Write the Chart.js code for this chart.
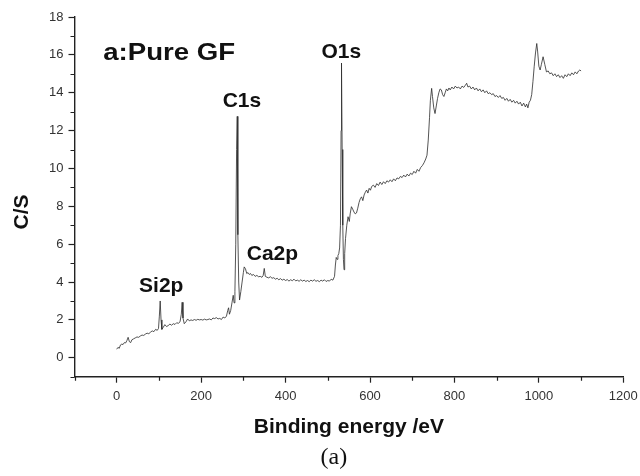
<!DOCTYPE html>
<html>
<head>
<meta charset="utf-8">
<script src="https://cdn.jsdelivr.net/npm/chart.js@4.4.0/dist/chart.umd.min.js"></script>
<style>
  html, body { margin: 0; padding: 0; background: #fff; }
  #wrap { width: 640px; height: 476px; position: relative; }
</style>
</head>
<body>
<div id="wrap"><canvas id="xpsChart"></canvas></div>
<script>
// XPS survey spectrum of pure GF
const energy = [
  // 0-99
  0, 3, 6, 9, 12, 15, 18, 21, 24, 27, 30, 33, 36, 40, 44, 48, 52, 56, 60, 64,
  68, 72, 76, 80, 84, 88, 92, 96, 99,
  // Si2p
  101, 103, 105, 107, 110, 114, 118, 122, 126, 130, 134, 138, 142, 146, 150, 153, 155, 157, 160,
  // 164-260
  164, 168, 172, 176, 180, 184, 188, 192, 196, 200, 204, 208, 212, 216, 220, 224, 228, 232, 236, 240,
  244, 248, 252, 256, 260,
  // C1s
  263, 265, 267, 270, 273, 276, 278, 280, 282, 284, 285.5, 287, 289, 291, 294, 297, 300, 302, 305,
  // Ca2p + flat part
  308, 311, 314, 317, 320, 324, 328, 332, 336, 340, 344, 347, 349.5, 352, 356, 360, 364, 368, 372, 376,
  380, 384, 388, 392, 396, 400, 404, 408, 412, 416, 420, 424, 428, 432, 436, 440, 444, 448, 452, 456,
  460, 464, 468, 472, 476, 480, 484, 488, 492, 496, 500, 504, 508, 512,
  // O1s
  516, 518, 520, 522, 524, 526, 528, 530, 531.5, 532.5, 534, 535.5, 537, 538.5, 540, 542, 545,
  // 548-735
  548, 551, 553, 556, 559, 562, 565, 568, 571, 574, 577, 580, 583, 586, 589, 592, 595, 598, 601, 604,
  608, 612, 616, 620, 624, 628, 632, 636, 640, 644, 648, 652, 656, 660, 664, 668, 672, 676, 680, 684,
  688, 692, 696, 700, 704, 708, 712, 716, 720, 724, 728, 732, 735,
  // 738-977
  738, 741, 743, 746, 748, 751, 754, 757, 760, 763, 766, 769, 772, 775, 778, 781, 784, 787, 790, 794,
  798, 802, 806, 810, 814, 818, 822, 826, 829, 832, 836, 840, 844, 848, 852, 856, 860, 864, 868, 872,
  876, 880, 884, 888, 892, 896, 900, 904, 908, 912, 916, 920, 924, 928, 932, 936, 940, 944, 948, 952,
  956, 960, 964, 968, 971, 974, 977,
  // 980-1100
  980, 983, 986, 989, 992, 995, 997, 1000, 1003, 1006, 1010, 1014, 1018, 1022, 1026, 1030, 1034, 1038, 1042, 1046,
  1050, 1054, 1058, 1062, 1066, 1070, 1074, 1078, 1082, 1086, 1090, 1094, 1097, 1100
];

const counts = [
  0.45, 0.55, 0.5, 0.68, 0.72, 0.7, 0.8, 0.78, 0.9, 1.08, 0.85, 0.8, 0.95, 1.0, 1.05, 1.1, 1.08, 1.15, 1.2, 1.18,
  1.25, 1.3, 1.27, 1.35, 1.42, 1.38, 1.5, 1.45, 1.55,

  2.2, 3.0, 2.0, 1.5, 1.6, 1.75, 1.65, 1.7, 1.78, 1.72, 1.8, 1.76, 1.85, 1.82, 1.9, 2.3, 2.93, 2.1, 1.8,

  1.9, 2.05, 1.95, 2.0, 1.97, 2.02, 1.98, 2.03, 2.0, 2.02, 1.99, 2.04, 2.0, 2.02, 2.05, 2.0, 2.1, 2.07, 2.12, 2.05,
  2.08, 2.02, 2.15, 2.1, 2.2,

  2.5, 2.64, 2.3, 2.5, 2.9, 3.3, 2.9, 3.5, 6.0, 11.0, 12.75, 6.5, 4.0, 3.05, 3.5, 4.0, 4.5, 4.8, 4.7,

  4.45, 4.5, 4.4, 4.45, 4.35, 4.4, 4.3, 4.35, 4.28, 4.3, 4.25, 4.35, 4.72, 4.3, 4.25, 4.22, 4.28, 4.2, 4.23, 4.15,
  4.2, 4.12, 4.18, 4.1, 4.15, 4.08, 4.13, 4.05, 4.12, 4.07, 4.15, 4.06, 4.1, 4.04, 4.12, 4.05, 4.1, 4.03, 4.08, 4.02,
  4.1, 4.05, 4.12, 4.04, 4.08, 4.02, 4.1, 4.05, 4.12, 4.03, 4.08, 4.05, 4.15, 4.1,

  4.3, 4.9, 5.3, 5.2, 5.4, 5.5, 5.8, 7.0, 12.0, 15.57, 11.0, 7.0, 5.2, 4.65, 5.5, 6.3, 7.0,

  7.45, 7.2, 7.6, 7.98, 7.85, 7.7, 7.6, 7.65, 7.9, 8.2, 8.4, 8.5, 8.3, 8.6, 8.75, 8.86, 8.7, 8.95, 8.85, 9.05,
  9.12, 9.0, 9.2, 9.1, 9.28, 9.15, 9.3, 9.2, 9.35, 9.28, 9.4, 9.3, 9.45, 9.35, 9.5, 9.45, 9.58, 9.52, 9.65, 9.55,
  9.7, 9.6, 9.75, 9.68, 9.85, 9.75, 9.95, 9.85, 10.05, 10.15, 10.3, 10.5, 10.7,

  11.5, 12.7, 13.6, 14.23, 13.8, 13.2, 12.9, 13.3, 13.7, 14.0, 14.2, 14.15, 13.9, 13.8, 14.0, 14.2, 14.1, 14.25, 14.15, 14.3,
  14.2, 14.35, 14.25, 14.3, 14.2, 14.35, 14.28, 14.4, 14.5, 14.3, 14.35, 14.2, 14.3, 14.15, 14.25, 14.1, 14.2, 14.05, 14.15, 14.0,
  14.1, 13.95, 14.0, 13.9, 13.95, 13.8, 13.85, 13.75, 13.85, 13.7, 13.75, 13.6, 13.7, 13.55, 13.65, 13.5, 13.6, 13.45, 13.55, 13.4,
  13.5, 13.3, 13.45, 13.25, 13.4, 13.2, 13.5,

  13.6, 13.9, 14.6, 15.4, 16.1, 16.6, 16.2, 15.4, 15.2, 15.5, 15.9, 15.5, 15.1, 15.15, 15.0, 15.05, 14.9, 15.0, 14.85, 14.95,
  14.8, 14.9, 14.76, 14.95, 14.85, 15.0, 14.9, 15.05, 14.95, 15.1, 15.0, 15.15, 15.2, 15.15
];

// peak labels (text, binding energy where text starts, C/S of baseline)
const peakNames = ['a:Pure GF', 'C1s', 'O1s', 'Ca2p', 'Si2p'];
const peakLabelX = [-32, 251, 485, 308, 53];
const peakLabelY = [15.75, 13.23, 15.82, 5.16, 3.49];

const points = energy.map((e, i) => ({ x: e, y: counts[i] }));

const isMajorX = v => v % 200 === 0 && v >= 0;
const isMajorY = v => v % 2 === 0 && v >= 0;

const textPlugin = {
  id: 'xpsText',
  afterDraw(chart) {
    const { ctx, chartArea, scales } = chart;
    const xs = scales.x, ys = scales.y;
    ctx.save();

    // minor ticks
    ctx.strokeStyle = '#222';
    ctx.lineWidth = 1.2;
    ctx.beginPath();
    xs.ticks.forEach(t => {
      if (isMajorX(t.value)) return;
      const px = Math.round(xs.getPixelForValue(t.value)) + 0.5;
      ctx.moveTo(px, chartArea.bottom);
      ctx.lineTo(px, chartArea.bottom + 4);
    });
    ys.ticks.forEach(t => {
      if (isMajorY(t.value)) return;
      const py = Math.round(ys.getPixelForValue(t.value)) + 0.5;
      ctx.moveTo(chartArea.left, py);
      ctx.lineTo(chartArea.left - 4, py);
    });
    ctx.stroke();

    // peak labels
    ctx.fillStyle = '#111';
    ctx.textBaseline = 'alphabetic';
    ctx.textAlign = 'left';
    peakNames.forEach((name, i) => {
      const px = xs.getPixelForValue(peakLabelX[i]);
      const py = ys.getPixelForValue(peakLabelY[i]);
      ctx.save();
      ctx.translate(px, py);
      if (i === 0) {
        ctx.font = 'bold 23px "Liberation Sans", Arial, sans-serif';
        ctx.scale(1.2, 1);
      } else {
        ctx.font = 'bold 21px "Liberation Sans", Arial, sans-serif';
      }
      ctx.fillText(name, 0, 0);
      ctx.restore();
    });

    // axis titles
    const midX = (chartArea.left + chartArea.right) / 2;
    ctx.textAlign = 'center';
    ctx.font = 'bold 21px "Liberation Sans", Arial, sans-serif';
    ctx.fillText('Binding energy /eV', midX, chartArea.bottom + 56.5);

    ctx.save();
    ctx.translate(chartArea.left - 52, chartArea.top + 195);
    ctx.rotate(-Math.PI / 2);
    ctx.textBaseline = 'middle';
    ctx.fillText('C/S', 0, 0);
    ctx.restore();

    // panel caption
    ctx.font = '24px "Liberation Serif", "Times New Roman", serif';
    ctx.fillText('(a)', midX - 15, chartArea.bottom + 87);

    ctx.restore();
  }
};

new Chart(document.getElementById('xpsChart'), {
  type: 'line',
  data: {
    datasets: [{
      data: points,
      borderColor: '#2a2a2a',
      borderWidth: 0.8,
      pointRadius: 0,
      tension: 0,
      fill: false
    }]
  },
  options: {
    responsive: true,
    maintainAspectRatio: false,
    animation: false,
    devicePixelRatio: 1,
    layout: { padding: { top: 17, right: 16.7, left: 0, bottom: 0 } },
    plugins: { legend: { display: false }, tooltip: { enabled: false } },
    scales: {
      x: {
        type: 'linear',
        min: -100,
        max: 1200,
        afterFit: s => { s.height = 99.3; s.paddingLeft = 0; s.paddingRight = 0; },
        border: { color: '#222', width: 1.4 },
        grid: {
          drawOnChartArea: false,
          tickLength: 6,
          tickWidth: 1.2,
          tickColor: c => (c.tick && isMajorX(c.tick.value)) ? '#222' : 'rgba(0,0,0,0)'
        },
        ticks: {
          stepSize: 100,
          autoSkip: false,
          maxRotation: 0,
          padding: 6,
          color: '#333',
          font: { family: '"Liberation Sans", Arial, sans-serif', size: 13 },
          callback: v => isMajorX(v) ? String(v) : ''
        }
      },
      y: {
        min: -1,
        max: 18,
        afterFit: s => { s.width = 74.5; s.paddingTop = 0; s.paddingBottom = 0; },
        border: { color: '#222', width: 1.4 },
        grid: {
          drawOnChartArea: false,
          tickLength: 6,
          tickWidth: 1.2,
          tickColor: c => (c.tick && isMajorY(c.tick.value)) ? '#222' : 'rgba(0,0,0,0)'
        },
        ticks: {
          stepSize: 1,
          autoSkip: false,
          padding: 5,
          color: '#333',
          font: { family: '"Liberation Sans", Arial, sans-serif', size: 13 },
          callback: v => isMajorY(v) ? String(v) : ''
        }
      }
    }
  },
  plugins: [textPlugin]
});
</script>
</body>
</html>
